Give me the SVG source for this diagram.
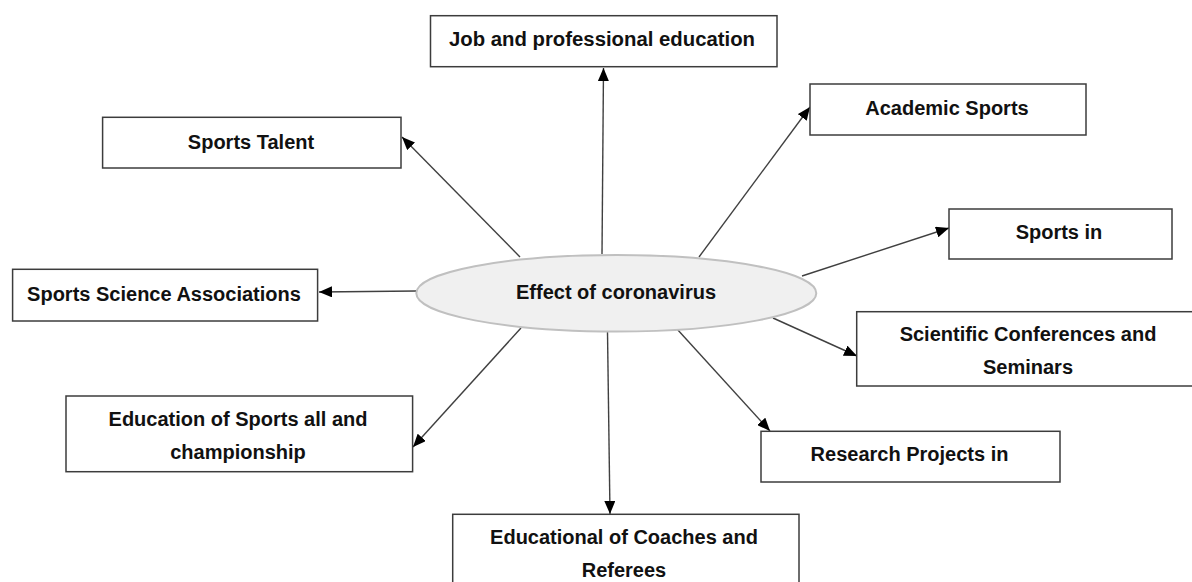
<svg xmlns="http://www.w3.org/2000/svg" width="1192" height="582" viewBox="0 0 1192 582">
<defs>
<style>
.box{fill:#ffffff;stroke:#3c3c3c;stroke-width:1.5}
.lbl{font-family:"Liberation Sans",Arial,sans-serif;font-weight:bold;font-size:20px;fill:#111111;text-anchor:middle}
.con{stroke:#404040;stroke-width:1.4;fill:none;marker-end:url(#ah)}
</style>
<marker id="ah" viewBox="0 0 13 11" refX="13" refY="5.5" markerWidth="13" markerHeight="11" orient="auto" markerUnits="userSpaceOnUse">
<path d="M0,0 L13,5.5 L0,11 z" fill="#000000"/>
</marker>
</defs>
<rect width="1192" height="582" fill="#ffffff"/>

<g id="connectors">
<line class="con" x1="602" y1="254" x2="603.5" y2="68"/>
<line class="con" x1="520" y1="257" x2="402" y2="137"/>
<line class="con" x1="699" y1="257" x2="810" y2="107"/>
<line class="con" x1="802" y1="276" x2="949" y2="228"/>
<line class="con" x1="416" y1="291" x2="319" y2="292"/>
<line class="con" x1="521" y1="328" x2="413" y2="447"/>
<line class="con" x1="607.5" y1="332" x2="610" y2="514"/>
<line class="con" x1="677" y1="329" x2="770" y2="431"/>
<line class="con" x1="773" y1="318" x2="857" y2="356"/>
</g>

<g id="center">
<ellipse cx="616.3" cy="293.3" rx="200" ry="38.3" fill="#f0f0f0" stroke="#c0c0c0" stroke-width="2"/>
<text class="lbl" x="616" y="299">Effect of coronavirus</text>
</g>

<g id="job">
<rect class="box" x="430.5" y="15.7" width="346.5" height="51"/>
<text class="lbl" x="602" y="46" textLength="306" lengthAdjust="spacingAndGlyphs">Job and professional education</text>
</g>

<g id="talent">
<rect class="box" x="102.6" y="117.3" width="298.4" height="50.7"/>
<text class="lbl" x="251" y="148.5">Sports Talent</text>
</g>

<g id="academic">
<rect class="box" x="810" y="84" width="276" height="51"/>
<text class="lbl" x="947" y="114.5">Academic Sports</text>
</g>

<g id="sportsin">
<rect class="box" x="949" y="209" width="223" height="50"/>
<text class="lbl" x="1059" y="239">Sports in</text>
</g>

<g id="associations">
<rect class="box" x="12.6" y="269.3" width="305" height="51.7"/>
<text class="lbl" x="164" y="301">Sports Science Associations</text>
</g>

<g id="education">
<rect class="box" x="66" y="396" width="346.6" height="75.7"/>
<text class="lbl" x="238" y="426">Education of Sports all and</text>
<text class="lbl" x="238" y="459">championship</text>
</g>

<g id="scientific">
<rect class="box" x="856.7" y="311.7" width="343" height="74.3"/>
<text class="lbl" x="1028" y="341">Scientific Conferences and</text>
<text class="lbl" x="1028" y="373.5">Seminars</text>
</g>

<g id="research">
<rect class="box" x="761" y="431.3" width="299" height="50.7"/>
<text class="lbl" x="909.5" y="461">Research Projects in</text>
</g>

<g id="coaches">
<rect class="box" x="452.7" y="514.3" width="346.3" height="80"/>
<text class="lbl" x="624" y="543.5">Educational of Coaches and</text>
<text class="lbl" x="624" y="576.5">Referees</text>
</g>
</svg>
